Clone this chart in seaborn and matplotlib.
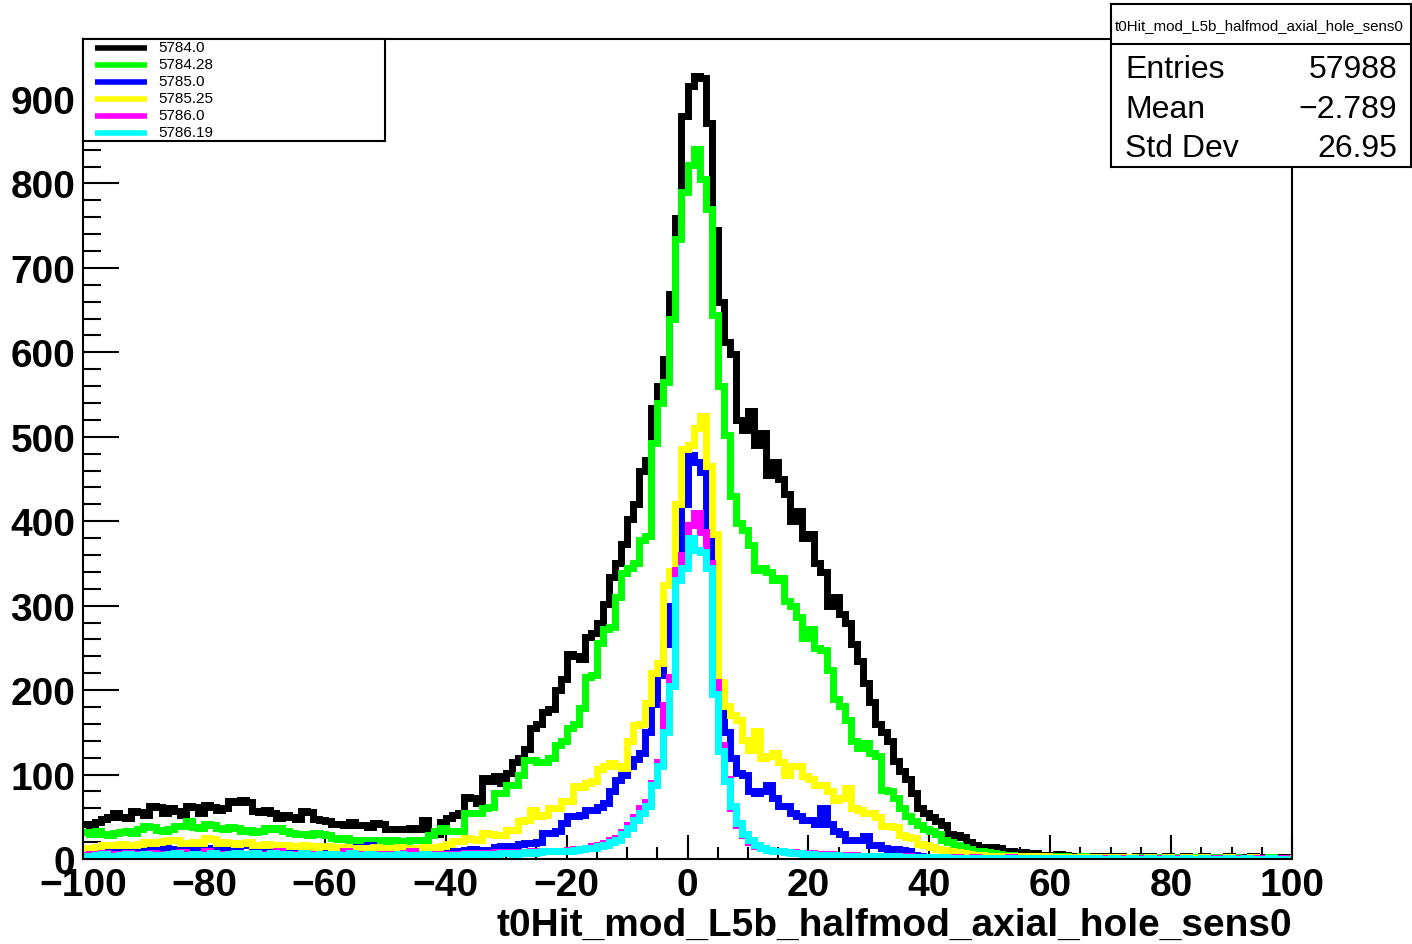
import numpy as np
import pandas as pd
import matplotlib
matplotlib.use("Agg")
import matplotlib.pyplot as plt
from matplotlib.ticker import MultipleLocator
import seaborn as sns

plt.rcParams["font.family"] = ["Liberation Sans", "DejaVu Sans"]
plt.rcParams["font.weight"] = "bold"

# Binning: 200 bins of width 1 between -100 and 100
bin_lo, bin_hi, n_bins = -100, 100, 200

run_labels = ["5784.0", "5784.28", "5785.0", "5785.25", "5786.0", "5786.19"]
run_colors = ["#000000", "#00ff00", "#0000ff", "#ffff00", "#ff00ff", "#00ffff"]

# bin contents (one line = 10 bins, starting at -100)
run_5784_0 = [
    42, 40, 44, 47, 50, 55, 50, 48, 57, 56,
    52, 63, 62, 55, 60, 57, 52, 63, 62, 55,
    64, 62, 58, 60, 69, 68, 70, 67, 57, 56,
    58, 55, 48, 52, 50, 47, 57, 56, 47, 46,
    45, 42, 41, 40, 44, 40, 40, 38, 43, 42,
    36, 36, 35, 36, 37, 35, 46, 33, 30, 44,
    48, 52, 54, 73, 72, 66, 96, 92, 98, 90,
    102, 115, 120, 130, 155, 160, 174, 178, 200, 213,
    243, 240, 237, 263, 268, 280, 302, 334, 350, 373,
    403, 420, 459, 472, 534, 560, 592, 669, 759, 880,
    915, 927, 925, 872, 745, 660, 612, 598, 520, 508,
    530, 490, 505, 455, 470, 450, 432, 400, 412, 380,
    385, 350, 340, 300, 310, 290, 280, 255, 235, 208,
    186, 160, 150, 140, 116, 104, 95, 78, 60, 55,
    50, 45, 40, 30, 28, 26, 20, 17, 14, 12,
    14, 13, 10, 9, 8, 8, 6, 7, 5, 5,
    4, 6, 5, 3, 4, 3, 3, 4, 2, 3,
    2, 3, 2, 2, 3, 2, 3, 2, 2, 3,
    2, 2, 3, 2, 2, 3, 2, 2, 2, 3,
    2, 2, 2, 3, 2, 2, 2, 2, 2, 2,
]
run_5784_28 = [
    32, 30, 33, 30, 29, 31, 32, 33, 31, 36,
    39, 38, 34, 33, 36, 39, 39, 45, 38, 37,
    42, 40, 37, 36, 38, 37, 33, 34, 32, 33,
    37, 36, 37, 33, 31, 30, 30, 29, 31, 30,
    28, 25, 24, 25, 22, 22, 23, 21, 22, 22,
    21, 22, 20, 21, 22, 22, 23, 28, 33, 37,
    33, 33, 33, 55, 55, 55, 60, 62, 78, 78,
    88, 88, 100, 117, 117, 115, 115, 120, 135, 140,
    155, 160, 179, 216, 218, 256, 272, 275, 310, 339,
    345, 351, 378, 383, 493, 540, 565, 639, 734, 790,
    822, 841, 805, 770, 644, 560, 502, 430, 398, 390,
    372, 342, 345, 340, 330, 333, 306, 300, 286, 262,
    272, 250, 248, 224, 189, 181, 165, 140, 132, 137,
    125, 122, 82, 80, 72, 60, 51, 45, 40, 36,
    33, 30, 22, 20, 16, 14, 12, 10, 9, 8,
    7, 6, 5, 5, 4, 4, 3, 4, 3, 3,
    3, 2, 3, 2, 2, 3, 2, 2, 2, 2,
    2, 2, 2, 1, 2, 2, 2, 1, 2, 2,
    2, 1, 2, 2, 1, 2, 2, 1, 2, 1,
    2, 1, 1, 2, 1, 1, 2, 1, 1, 1,
]
run_5785_0 = [
    8, 9, 10, 9, 11, 10, 9, 12, 10, 11,
    12, 10, 11, 13, 12, 10, 11, 12, 14, 12,
    13, 11, 12, 14, 16, 12, 18, 17, 13, 14,
    12, 13, 11, 12, 10, 11, 12, 10, 11, 13,
    10, 11, 9, 10, 12, 14, 12, 16, 11, 10,
    9, 10, 9, 11, 10, 9, 10, 11, 9, 10,
    10, 9, 10, 11, 12, 11, 11, 11, 14, 15,
    15, 15, 18, 19, 19, 20, 31, 31, 33, 43,
    51, 51, 52, 58, 58, 62, 66, 80, 93, 100,
    110, 118, 125, 150, 183, 218, 255, 300, 330, 420,
    478, 470, 458, 380, 307, 200, 150, 120, 102, 100,
    80, 78, 81, 88, 72, 63, 63, 55, 51, 46,
    46, 41, 60, 41, 33, 30, 23, 23, 22, 27,
    17, 17, 13, 12, 12, 11, 10, 5, 3, 2,
    2, 2, 1, 2, 1, 1, 1, 1, 1, 1,
    1, 1, 1, 0, 1, 1, 0, 1, 1, 0,
    1, 0, 1, 1, 0, 1, 0, 1, 0, 1,
    0, 1, 0, 1, 0, 0, 1, 0, 1, 0,
    1, 0, 0, 1, 0, 1, 0, 0, 1, 0,
    0, 1, 0, 0, 1, 0, 0, 1, 0, 0,
]
run_5785_25 = [
    13, 13, 14, 16, 17, 17, 18, 17, 16, 18,
    20, 19, 20, 21, 23, 22, 19, 19, 20, 19,
    25, 24, 19, 20, 19, 18, 19, 20, 17, 17,
    18, 16, 17, 17, 15, 15, 16, 15, 14, 15,
    15, 14, 13, 14, 13, 13, 12, 13, 14, 13,
    12, 13, 14, 13, 12, 13, 14, 13, 14, 15,
    18, 21, 21, 25, 24, 23, 31, 30, 29, 29,
    34, 34, 45, 46, 58, 51, 52, 60, 60, 69,
    69, 87, 85, 90, 92, 106, 110, 114, 110, 108,
    140, 159, 160, 185, 220, 232, 325, 341, 420, 485,
    490, 510, 525, 465, 385, 210, 181, 170, 165, 141,
    129, 152, 120, 122, 126, 115, 100, 110, 110, 98,
    95, 88, 88, 80, 70, 72, 84, 60, 58, 55,
    55, 50, 39, 39, 38, 28, 26, 25, 18, 16,
    14, 12, 11, 10, 8, 7, 6, 5, 5, 4,
    4, 4, 3, 3, 3, 3, 3, 3, 2, 3,
    2, 2, 2, 2, 2, 1, 2, 2, 1, 2,
    1, 2, 1, 2, 1, 1, 2, 1, 1, 2,
    1, 1, 2, 1, 1, 2, 1, 1, 1, 2,
    1, 1, 1, 2, 1, 1, 1, 1, 1, 1,
]
run_5786_0 = [
    5, 6, 5, 7, 6, 5, 6, 7, 6, 5,
    6, 7, 6, 5, 6, 7, 8, 6, 5, 6,
    10, 7, 6, 5, 6, 7, 6, 5, 7, 6,
    5, 6, 9, 6, 5, 6, 7, 6, 5, 6,
    6, 5, 6, 9, 6, 5, 6, 5, 6, 5,
    6, 5, 6, 7, 10, 6, 5, 6, 5, 6,
    6, 5, 6, 7, 6, 7, 6, 7, 8, 7,
    8, 8, 7, 8, 9, 8, 9, 10, 9, 10,
    11, 12, 12, 13, 15, 17, 19, 22, 25, 32,
    40, 50, 60, 68, 90, 115, 182, 215, 342, 360,
    396, 410, 387, 350, 210, 135, 95, 60, 40, 28,
    20, 15, 13, 11, 10, 9, 8, 8, 7, 7,
    7, 6, 6, 6, 5, 5, 5, 5, 4, 4,
    4, 4, 3, 3, 3, 3, 3, 2, 2, 2,
    2, 2, 2, 1, 2, 1, 1, 2, 1, 1,
    1, 1, 1, 2, 1, 1, 1, 1, 0, 1,
    1, 1, 0, 1, 1, 0, 1, 1, 0, 1,
    0, 1, 1, 0, 1, 0, 1, 0, 1, 0,
    1, 0, 1, 0, 0, 1, 0, 1, 0, 0,
    0, 1, 0, 0, 1, 0, 0, 0, 1, 0,
]
run_5786_19 = [
    4, 3, 5, 6, 4, 3, 5, 6, 4, 5,
    6, 4, 5, 4, 6, 7, 5, 4, 6, 5,
    5, 7, 5, 4, 6, 7, 6, 5, 7, 5,
    5, 7, 5, 6, 4, 5, 7, 5, 4, 6,
    4, 6, 4, 5, 7, 5, 4, 6, 4, 5,
    4, 5, 6, 4, 5, 4, 6, 4, 5, 5,
    5, 4, 5, 6, 5, 6, 5, 6, 6, 7,
    7, 6, 7, 8, 7, 8, 9, 9, 10, 10,
    10, 11, 12, 13, 13, 15, 17, 20, 23, 30,
    37, 46, 55, 63, 88, 110, 150, 205, 330, 345,
    380, 366, 364, 345, 195, 128, 92, 63, 43, 30,
    22, 16, 13, 11, 10, 9, 8, 7, 7, 6,
    6, 5, 5, 5, 5, 4, 4, 4, 4, 3,
    3, 3, 3, 3, 3, 2, 2, 2, 2, 2,
    2, 2, 2, 1, 1, 1, 1, 1, 1, 1,
    1, 1, 1, 1, 1, 0, 1, 1, 0, 1,
    1, 0, 1, 0, 1, 1, 0, 1, 0, 0,
    1, 0, 0, 1, 0, 0, 1, 0, 0, 1,
    0, 0, 1, 0, 0, 1, 0, 0, 0, 1,
    0, 0, 1, 0, 0, 0, 1, 0, 0, 0,
]
all_runs = [run_5784_0, run_5784_28, run_5785_0, run_5785_25, run_5786_0, run_5786_19]

stat_names = ["Entries", "Mean", "Std Dev"]
stat_values = ["57988", "\u22122.789", "26.95"]
hist_name = "t0Hit_mod_L5b_halfmod_axial_hole_sens0"

edges = np.linspace(bin_lo, bin_hi, n_bins + 1)
centers = 0.5 * (edges[:-1] + edges[1:])
df = pd.concat(
    [pd.DataFrame({"t0": centers, "count": c, "run": lab}) for lab, c in zip(run_labels, all_runs)]
)

W, H = 1412, 945
fig = plt.figure(figsize=(W / 100, H / 100), dpi=100)
ax = fig.add_axes([83 / W, 1 - 860 / H, (1292 - 83) / W, (860 - 40) / H])

# draw in legend order, last one ends on top
for lab, col in zip(run_labels, run_colors):
    sns.histplot(data=df[df["run"] == lab], x="t0", weights="count",
                 binwidth=1, binrange=(bin_lo, bin_hi),
                 element="step", fill=False, color=col, linewidth=5, ax=ax,
                 solid_joinstyle="miter")

ax.set_xlim(bin_lo, bin_hi)
ax.set_ylim(0, 971)
ax.xaxis.set_major_locator(MultipleLocator(20))
ax.xaxis.set_minor_locator(MultipleLocator(5))
ax.yaxis.set_major_locator(MultipleLocator(100))
ax.yaxis.set_minor_locator(MultipleLocator(20))
ax.tick_params(axis="both", which="both", direction="in", width=1.5, top=False, right=False)
ax.tick_params(axis="y", which="major", length=26)
ax.tick_params(axis="y", which="minor", length=13)
ax.tick_params(axis="x", which="major", length=17.5)
ax.tick_params(axis="x", which="minor", length=8.7)
ax.tick_params(axis="both", which="major", labelsize=28, pad=5.5)
for s in ax.spines.values():
    s.set_linewidth(1.5)
ax.set_ylabel("")
ax.set_xlabel(hist_name, loc="right", fontsize=28, fontweight="bold", labelpad=3)

# legend box (ROOT TLegend style)
lax = fig.add_axes([83 / W, 1 - 142 / H, 302 / W, 102 / H])
lax.set_xlim(0, 302)
lax.set_ylim(102, 0)
lax.set_xticks([])
lax.set_yticks([])
for s in lax.spines.values():
    s.set_linewidth(1.5)
for i, (lab, col) in enumerate(zip(run_labels, run_colors)):
    yy = 9 + i * 17
    lax.plot([12, 64], [yy, yy], color=col, linewidth=4, solid_capstyle="butt")
    lax.text(75, yy + 3, lab, fontsize=11, fontweight="normal", ha="left", va="baseline")

# stats box
sax = fig.add_axes([1111 / W, 1 - 168 / H, 300 / W, 163 / H])
sax.set_xlim(0, 300)
sax.set_ylim(163, 0)
sax.set_xticks([])
sax.set_yticks([])
for s in sax.spines.values():
    s.set_linewidth(1.5)
sax.axhline(40, color="black", linewidth=1.5)
sax.text(148, 25, hist_name, fontsize=10.8, fontweight="normal", ha="center", va="baseline")
for i, (nm, val) in enumerate(zip(stat_names, stat_values)):
    yb = 73 + i * 39.5
    sax.text(14, yb, nm, fontsize=23, fontweight="normal", ha="left", va="baseline")
    sax.text(286, yb, val, fontsize=23, fontweight="normal", ha="right", va="baseline")

fig.savefig("out.png", dpi=100)
